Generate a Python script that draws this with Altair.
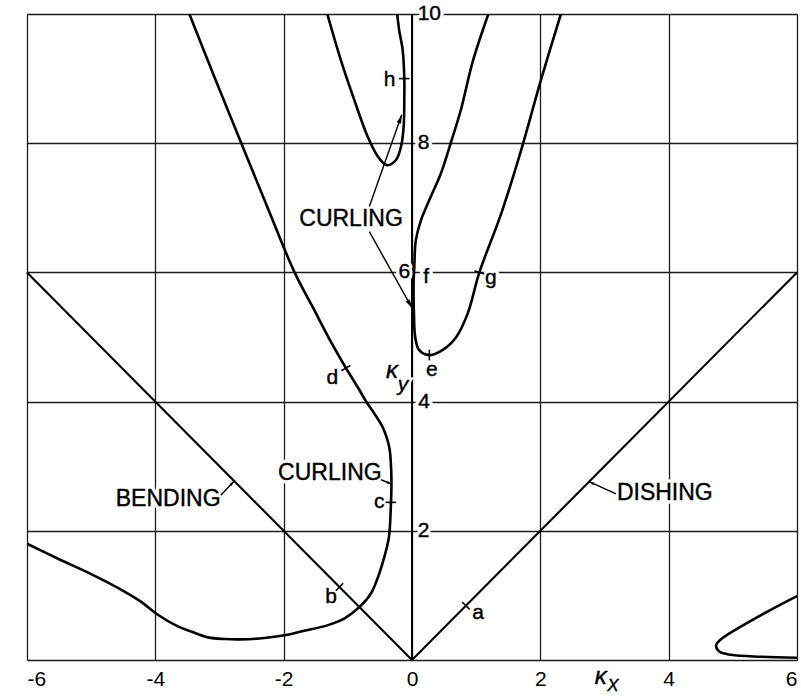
import math
import altair as alt
import pandas as pd

PLOT_W, PLOT_H = 770, 646
KX_DOMAIN = [-6, 6]
KY_DOMAIN = [0, 10]
PX_PER_KX = PLOT_W / (KX_DOMAIN[1] - KX_DOMAIN[0])
PX_PER_KY = PLOT_H / (KY_DOMAIN[1] - KY_DOMAIN[0])
FONT = "Liberation Sans"

# ---- stability boundaries in the (kx, ky) plane ----
outer_kx = [-6.0, -5.5, -5.0, -4.48, -4.22, -3.96, -3.65, -3.44, -3.18, -2.92,
            -2.66, -2.30, -1.94, -1.73, -1.31, -1.05, -0.81, -0.64, -0.51, -0.43,
            -0.36, -0.33, -0.32, -0.33, -0.35, -0.39, -0.46, -0.59, -0.72, -0.85,
            -1.03, -1.25, -1.54, -1.83, -2.25, -2.66, -3.07, -3.47]
outer_ky = [1.80, 1.56, 1.33, 1.06, 0.90, 0.70, 0.52, 0.44, 0.35, 0.325,
            0.32, 0.34, 0.39, 0.44, 0.54, 0.645, 0.83, 1.03, 1.34, 1.60,
            1.90, 2.37, 2.79, 3.05, 3.27, 3.43, 3.61, 3.82, 4.01, 4.23,
            4.52, 4.90, 5.45, 6.0, 7.0, 8.0, 9.0, 10.0]

loop_h_kx = [-1.32, -1.11, -0.90, -0.69, -0.53, -0.39, -0.25, -0.17, -0.13, -0.12,
             -0.12, -0.145, -0.20, -0.23]
loop_h_ky = [10.0, 9.29, 8.67, 8.10, 7.79, 7.66, 7.74, 7.95, 8.26, 8.67,
             9.0, 9.44, 9.75, 10.0]

loop_e_kx = [1.19, 0.945, 0.76, 0.60, 0.45, 0.27, 0.14, 0.06, 0.036, 0.026, 0.03,
             0.05, 0.11, 0.27, 0.48, 0.69, 0.87, 1.05, 1.39, 1.70, 2.01, 2.32]
loop_e_ky = [10.0, 9.26, 8.51, 7.99, 7.53, 7.12, 6.81, 6.50, 6.09, 5.88, 5.37,
             5.0, 4.80, 4.72, 4.80, 5.0, 5.37, 6.0, 6.91, 7.89, 8.98, 10.0]

corner_kx = [6.0, 5.54, 5.13, 4.84, 4.74, 4.79, 4.97, 5.44, 6.0]
corner_ky = [0.99, 0.75, 0.52, 0.34, 0.23, 0.13, 0.08, 0.05, 0.035]

# straight bending / dishing lines
bending_kx = [-6.0, 0.0]
bending_ky = [6.0, 0.0]
dishing_kx = [0.0, 6.0]
dishing_ky = [0.0, 6.0]

# marked points on the boundaries: position and local tangent direction
tick_kx = [0.84, -1.13, -0.33, -1.03, 0.27, 1.05, -0.12]
tick_ky = [0.84, 1.13, 2.44, 4.52, 4.72, 6.0, 9.0]
tick_dkx = [1.0, -1.0, 0.0, -0.57, 1.0, 0.52, 0.0]
tick_dky = [1.0, 1.0, 1.0, 0.95, 0.0, 1.54, 1.0]

letters = ["a", "b", "c", "d", "e", "f", "g", "h"]
letter_kx = [1.03, -1.26, -0.51, -1.24, 0.31, 0.22, 1.23, -0.35]
letter_ky = [0.72, 0.98, 2.44, 4.37, 4.49, 5.93, 5.91, 8.98]

# ky scale numbers written along the kx = 0 line
ky_labels = ["10", "8", "6", "4", "2"]
ky_label_kx = [0.27, 0.18, -0.12, 0.19, 0.18]
ky_label_ky = [10.0, 8.0, 6.0, 4.0, 2.0]

# mode names
mode_names = ["BENDING", "CURLING", "DISHING", "CURLING"]
mode_kx = [-3.80, -1.28, 3.94, -0.95]
mode_ky = [2.49, 2.90, 2.59, 6.83]

# leader arrows from the mode names (start -> head)
arrow_kx = [-2.98, -0.48, 3.18, -0.665, -0.665]
arrow_ky = [2.55, 2.79, 2.57, 7.02, 6.63]
arrow_kx2 = [-2.77, -0.31, 2.76, -0.16, 0.0]
arrow_ky2 = [2.77, 2.72, 2.76, 8.44, 5.45]
arrow_head = [45, 45, 45, 120, 120]

# axis symbols
sym_text = ["κ", "y", "κ", "X"]
sym_kx = [-0.31, -0.14, 2.94, 3.13]
sym_ky = [4.47, 4.26, -0.26, -0.41]
sym_size = [24, 21, 24, 17]


def curve_frame():
    rows = []
    for name, xs, ys in [("outer", outer_kx, outer_ky), ("h", loop_h_kx, loop_h_ky),
                         ("e", loop_e_kx, loop_e_ky), ("corner", corner_kx, corner_ky)]:
        for i, (x, y) in enumerate(zip(xs, ys)):
            rows.append({"curve": name, "idx": i, "kx": x, "ky": y})
    return pd.DataFrame(rows)


def screen_angle(dkx, dky):
    # clockwise screen angle (degrees) of a data-space direction
    return math.degrees(math.atan2(-dky * PX_PER_KY, dkx * PX_PER_KX))


curves = curve_frame()
lines = pd.DataFrame(
    [{"curve": "bend", "idx": i, "kx": x, "ky": y} for i, (x, y) in enumerate(zip(bending_kx, bending_ky))]
    + [{"curve": "dish", "idx": i, "kx": x, "ky": y} for i, (x, y) in enumerate(zip(dishing_kx, dishing_ky))]
)
ticks = pd.DataFrame({
    "kx": tick_kx, "ky": tick_ky,
    "rot": [(screen_angle(dx, dy) + 90) % 360 for dx, dy in zip(tick_dkx, tick_dky)],
})
arrows = pd.DataFrame({"kx": arrow_kx, "ky": arrow_ky, "kx2": arrow_kx2, "ky2": arrow_ky2})
heads = pd.DataFrame({
    "kx": arrow_kx2, "ky": arrow_ky2, "size": arrow_head,
    "rot": [math.degrees(math.atan2((x2 - x1) * PX_PER_KX, (y2 - y1) * PX_PER_KY)) % 360
            for x1, y1, x2, y2 in zip(arrow_kx, arrow_ky, arrow_kx2, arrow_ky2)],
})
texts = pd.DataFrame({
    "kx": letter_kx + ky_label_kx + mode_kx,
    "ky": letter_ky + ky_label_ky + mode_ky,
    "text": letters + ky_labels + mode_names,
    "fs": [21] * len(letters) + [21] * len(ky_labels) + [23] * len(mode_names),
})
symbols = pd.DataFrame({"kx": sym_kx, "ky": sym_ky, "text": sym_text, "fs": sym_size})

xscale = alt.Scale(domain=KX_DOMAIN, nice=False, zero=False)
yscale = alt.Scale(domain=KY_DOMAIN, nice=False, zero=False)

x_axis = alt.Axis(values=[-6, -4, -2, 0, 2, 4, 6], grid=True, gridColor="#1c1c1c", gridWidth=1.3,
                  domain=False, ticks=False, labelFont=FONT, labelFontSize=21, labelColor="black",
                  labelPadding=8, labelExpr="toString(datum.value)", title=None)
y_axis = alt.Axis(values=[0, 2, 4, 6, 8, 10], grid=True, gridColor="#1c1c1c", gridWidth=1.3,
                  domain=False, ticks=False, labels=False, title=None)

X = alt.X("kx:Q", scale=xscale, axis=x_axis)
Y = alt.Y("ky:Q", scale=yscale, axis=y_axis)
Xp = alt.X("kx:Q", scale=xscale)
Yp = alt.Y("ky:Q", scale=yscale)

straight = alt.Chart(lines).mark_line(color="black", strokeWidth=2.1).encode(
    x=X, y=Y, detail="curve:N", order="idx:Q")

kx0 = alt.Chart(pd.DataFrame({"kx": [0.0]})).mark_rule(color="black", strokeWidth=2.0).encode(x=Xp)

text_halo = alt.Chart(texts).mark_text(font=FONT, color="white", stroke="white", strokeWidth=7,
                                       strokeJoin="round", baseline="middle", align="center").encode(
    x=Xp, y=Yp, text="text:N", size=alt.Size("fs:Q", scale=None))
text_ink = alt.Chart(texts).mark_text(font=FONT, color="black", stroke="black", strokeWidth=0.4,
                                      baseline="middle", align="center").encode(
    x=Xp, y=Yp, text="text:N", size=alt.Size("fs:Q", scale=None))

sym_halo = alt.Chart(symbols).mark_text(font=FONT, fontStyle="italic", color="white", stroke="white",
                                        strokeWidth=5, baseline="middle", align="center").encode(
    x=Xp, y=Yp, text="text:N", size=alt.Size("fs:Q", scale=None))
sym_ink = alt.Chart(symbols).mark_text(font=FONT, fontStyle="italic", color="black", stroke="black",
                                       strokeWidth=0.4, baseline="middle", align="center").encode(
    x=Xp, y=Yp, text="text:N", size=alt.Size("fs:Q", scale=None))

boundaries = alt.Chart(curves).mark_line(color="black", strokeWidth=2.6, interpolate="catmull-rom",
                                         clip=True).encode(
    x=Xp, y=Yp, detail="curve:N", order="idx:Q")

tick_marks = alt.Chart(ticks).mark_point(shape="M -1 0 L 1 0", filled=False, color="black",
                                         strokeWidth=1.6, size=110, opacity=1).encode(
    x=Xp, y=Yp, angle=alt.Angle("rot:Q", scale=None))

leaders = alt.Chart(arrows).mark_rule(color="black", strokeWidth=1.4).encode(
    x=Xp, y=Yp, x2="kx2:Q", y2="ky2:Q")

arrow_heads = alt.Chart(heads).mark_point(shape="M 0 0 L -0.42 1.6 L 0.42 1.6 Z", filled=True,
                                          color="black", opacity=1, strokeWidth=0.5).encode(
    x=Xp, y=Yp, angle=alt.Angle("rot:Q", scale=None), size=alt.Size("size:Q", scale=None))

chart = alt.layer(
    straight, kx0, text_halo, sym_halo, boundaries, tick_marks, leaders, arrow_heads, text_ink, sym_ink
).properties(
    width=PLOT_W, height=PLOT_H,
    autosize=alt.AutoSizeParams(type="none"),
    padding={"left": 27, "top": 14, "right": 4, "bottom": 38},
).configure_view(stroke=None).configure(background="white")

chart.save("out.html", embed_options={"renderer": "svg", "actions": False})
